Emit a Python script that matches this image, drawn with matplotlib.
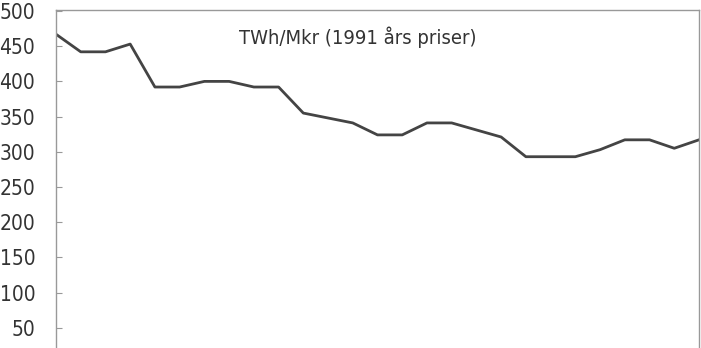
import matplotlib
matplotlib.use("Agg")
import matplotlib.pyplot as plt

# TWh per Mkr, yearly values
years = list(range(1965, 1992))
intensity = [467, 442, 442, 453, 392, 392, 400, 400, 392, 392, 355, 348, 341,
             324, 324, 341, 341, 331, 321, 293, 293, 293, 303, 317, 317, 305, 317]
ytick_vals = [50, 100, 150, 200, 250, 300, 350, 400, 450, 500]
title = "TWh/Mkr (1991 års priser)"

plt.rcParams['font.family'] = ['DejaVu Sans']
plt.rcParams['font.stretch'] = 'condensed'

fig = plt.figure(figsize=(7.01, 3.48), dpi=100)
ax = fig.add_axes([56 / 701, 0.0, (699 - 56) / 701, 1 - 10 / 348])

ax.plot(years, intensity, color='#444444', lw=2.0, solid_joinstyle='round')

ax.set_xlim(years[0], years[-1])
ax.set_ylim(21.3, 501.4)
ax.set_yticks(ytick_vals)
ax.set_xticks([])
ax.tick_params(axis='y', direction='in', length=4, width=0.8, color='#999999',
               labelsize=15, labelcolor='#333333', pad=15)

for side in ['left', 'top', 'right']:
    ax.spines[side].set_color('#999999')
    ax.spines[side].set_linewidth(1.0)
ax.spines['bottom'].set_visible(False)

# title sits inside the frame, placed in pixels
ax.text(358, 348 - 37, title, transform=None, ha='center', va='center',
        fontsize=14.5, color='#333333')

fig.savefig("out.png", dpi=100)
